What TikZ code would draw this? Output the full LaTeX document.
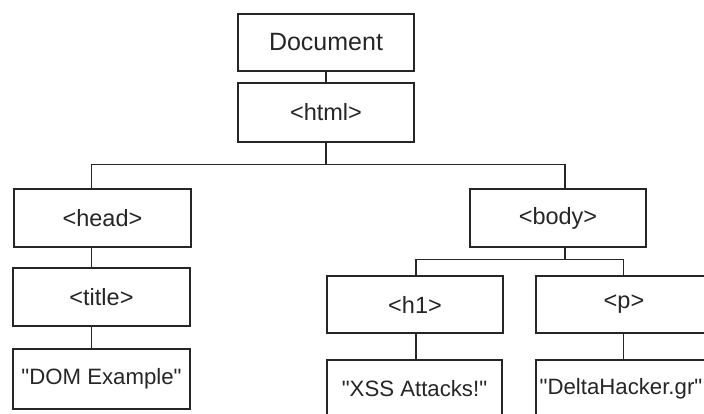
\documentclass[tikz,border=0pt]{standalone}
\usepackage{fontspec}
\setmainfont{Liberation Sans}
\newfontfamily\arial{Liberation Sans}
\begin{document}
\begin{tikzpicture}[x=1pt,y=-1pt,
  box/.style={draw=black!85, line width=1.4pt, fill=white, inner sep=0pt,
    minimum width=176pt, minimum height=58pt, text=black!85,
    font=\arial\fontsize{23.5}{26}\selectfont},
  strbox/.style={box, font=\arial\fontsize{22.2}{25}\selectfont},
  link/.style={draw=black!85, line width=1.5pt, line cap=rect}]
\useasboundingbox (0,0) rectangle (704,413);
\clip (0,0) rectangle (704,413);
% nodes
\node[box, minimum height=57pt, font=\arial\fontsize{25}{28}\selectfont] (doc) at (326,42.5) {Document};
\node[box, minimum height=59pt] (html) at (326,112.5) {<html>};
\node[box, minimum width=177pt] (head) at (102.5,218) {<head>};
\node[box, minimum width=177pt] (title) at (101.5,297) {<title>};
\node[strbox, minimum width=177pt, minimum height=60pt] (dom) at (101.5,379) {"DOM Example"};
\node[box] (body) at (558,218) {<body>};
\node[box, minimum height=57pt] (h1) at (415,304.5) {<h1>};
\node[box, minimum height=57pt] (p) at (624,304.5) {<p>};
\node[strbox, minimum width=175pt] (xss) at (414.5,389) {"XSS Attacks!"};
\node[strbox, minimum width=170pt] (delta) at (621,389) {"DeltaHacker.gr"};
% connector columns
\coordinate (hx) at (91.5,0);
\coordinate (bx) at (565,0);
\coordinate (h1x) at (416,0);
\coordinate (px) at (623.5,0);
% connectors
\draw[link] (doc.south) -- (html.north);
\draw[link] (html.south) -- ++(0,22) coordinate (j1);
\draw[link] (head.north -| hx) |- (j1) -| (body.north -| bx);
\draw[link] (head.south -| hx) -- (title.north -| hx);
\draw[link] (title.south -| hx) -- (dom.north -| hx);
\draw[link] (body.south -| bx) -- ++(0,12) coordinate (j2);
\draw[link] (h1.north -| h1x) |- (j2) -| (p.north -| px);
\draw[link] (h1.south -| h1x) -- (xss.north -| h1x);
\draw[link] (p.south -| px) -- (delta.north -| px);
\end{tikzpicture}
\end{document}
